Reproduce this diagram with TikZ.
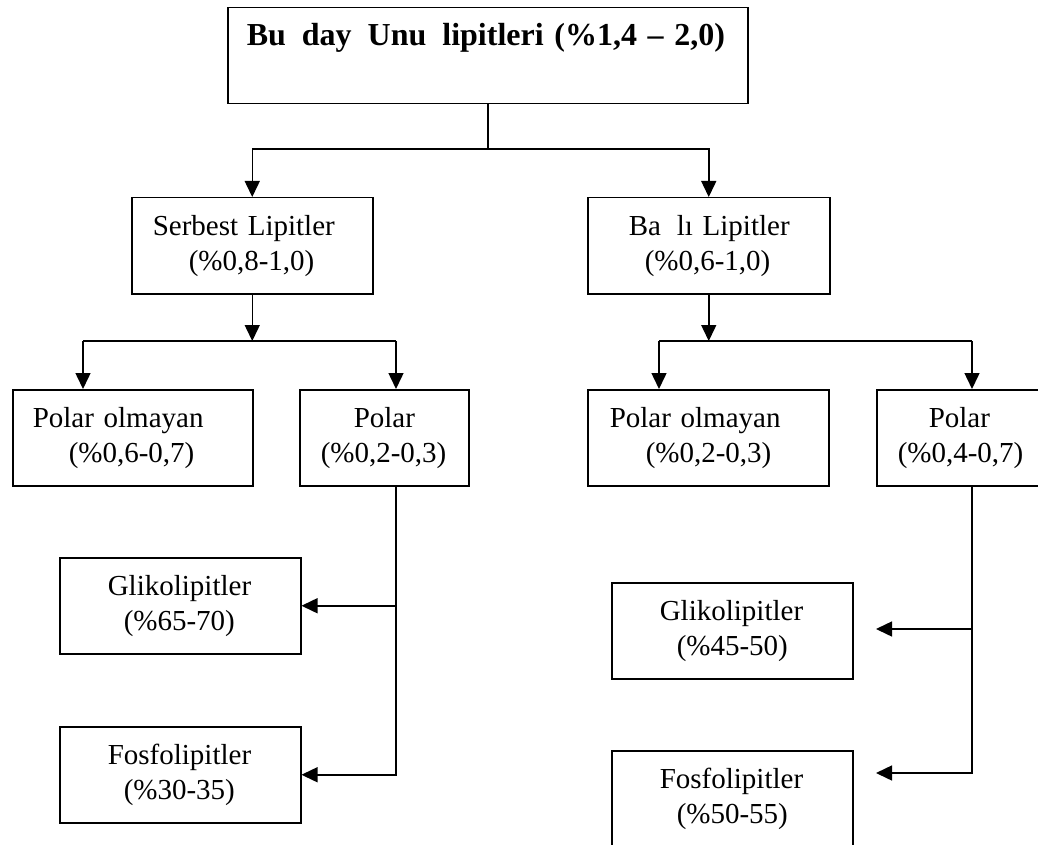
\documentclass[tikz,border=0pt]{standalone}
\usepackage{fontspec}
\setmainfont{Liberation Serif}
\usetikzlibrary{arrows.meta}
\begin{document}
\begin{tikzpicture}[x=1pt,y=-1pt,
  box/.style={draw, line width=1.5pt, anchor=north west, inner xsep=0pt, inner ysep=0pt,
    text height=38pt, text depth=58pt, align=left, font=\fontsize{29}{35}\selectfont},
  ln/.style={line width=1.5pt},
  arr/.style={line width=1.5pt, -{Triangle[length=16pt,width=15pt]}}]
\useasboundingbox (0,0) rectangle (1038,845);
% boxes
\node[box, text width=520pt, font=\bfseries\fontsize{32}{38}\selectfont] (top) at (227,7)
  {\hspace*{19pt}Bu\hspace{0.5em}day\hspace{0.5em}Unu\hspace{0.5em}lipitleri (\%1,4 – 2,0)};
\node[box, text width=241pt] (serbest) at (131,197)
  {\hspace*{21pt}Serbest Lipitler\\\hspace*{57pt}(\%0,8-1,0)};
\node[box, text width=242pt] (bagli) at (587,197)
  {\hspace*{41pt}Ba\hspace{0.55em}lı Lipitler\\\hspace*{57pt}(\%0,6-1,0)};
\node[box, text width=240pt] (po1) at (12,389)
  {\hspace*{20pt}Polar olmayan\\\hspace*{56pt}(\%0,6-0,7)};
\node[box, text width=169pt] (pl1) at (299,389)
  {\hspace*{54pt}Polar\\\hspace*{21pt}(\%0,2-0,3)};
\node[box, text width=241pt] (po2) at (587,389)
  {\hspace*{22pt}Polar olmayan\\\hspace*{58pt}(\%0,2-0,3)};
\node[box, text width=169pt] (pl2) at (876,389)
  {\hspace*{52pt}Polar\\\hspace*{21pt}(\%0,4-0,7)};
\node[box, text width=241pt] (gl1) at (59,557)
  {\hspace*{48pt}Glikolipitler\\\hspace*{64pt}(\%65-70)};
\node[box, text width=241pt] (fl1) at (59,726)
  {\hspace*{48pt}Fosfolipitler\\\hspace*{64pt}(\%30-35)};
\node[box, text width=241pt] (gl2) at (611,582)
  {\hspace*{48pt}Glikolipitler\\\hspace*{65pt}(\%45-50)};
\node[box, text width=241pt] (fl2) at (611,750)
  {\hspace*{48pt}Fosfolipitler\\\hspace*{65pt}(\%50-55)};
% junctions
\coordinate (j1) at (487,149);
\coordinate (j2) at (251.5,341);
\coordinate (a1) at (83,341);
\coordinate (b1) at (396,341);
\coordinate (j3) at (708,341);
\coordinate (a2) at (659,341);
\coordinate (b2) at (972,341);
\coordinate (e1) at (876,629);
\coordinate (e2) at (876,773);
% connectors
\draw[ln] (top.south) -- (top.south |- j1);
\draw[arr] (top.south |- j1) -| (serbest.north);
\draw[arr] (top.south |- j1) -| (bagli.north);
\draw[arr] (serbest.south) -- (serbest.south |- j2);
\draw[ln] (a1) -- (b1);
\draw[arr] (a1) -- (a1 |- po1.north);
\draw[arr] (b1) -- (b1 |- pl1.north);
\draw[arr] (bagli.south) -- (bagli.south |- j3);
\draw[ln] (a2) -- (b2);
\draw[arr] (a2) -- (a2 |- po2.north);
\draw[arr] (b2) -- (b2 |- pl2.north);
\draw[arr] (b1 |- pl1.south) |- (fl1.east);
\draw[arr] (b1 |- gl1.east) -- (gl1.east);
\draw[arr] (b2 |- pl2.south) |- (e2);
\draw[arr] (b2 |- e1) -- (e1);
\end{tikzpicture}
\end{document}
